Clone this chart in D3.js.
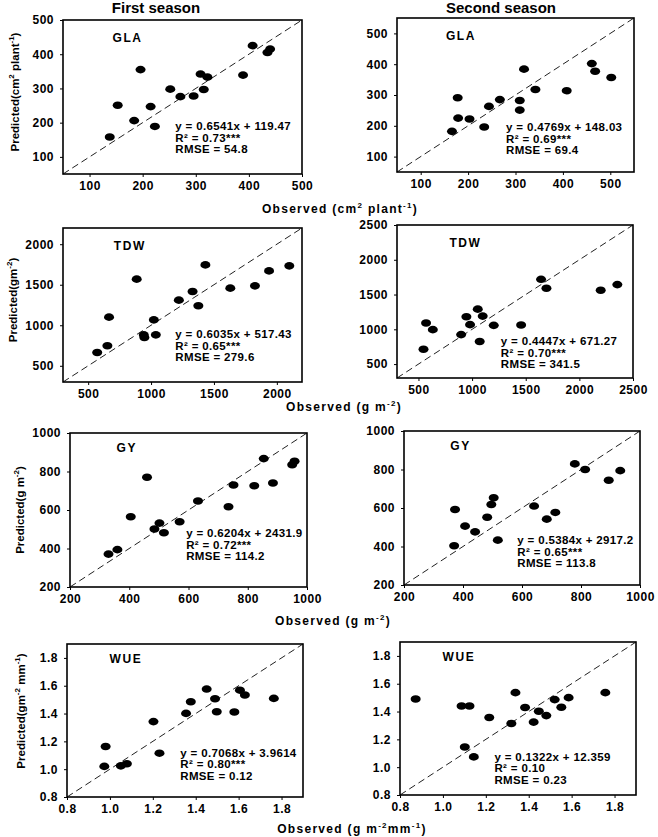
<!DOCTYPE html>
<html><head><meta charset="utf-8">
<script src="https://cdn.jsdelivr.net/npm/d3@7"></script>
<style>
html,body{margin:0;padding:0;background:#fff;}
svg{display:block;}
text{font-family:Arial,"Liberation Sans",sans-serif;font-weight:bold;fill:#000;}
</style></head>
<body>
<svg id="chart" width="658" height="837"></svg>
<script>
// ---------- data ----------
const seasons = ["First season", "Second season"];

const glaFirstObs  = [138,153,184,196,215,223,252,271,296,309,315,322,389,407,435,440];
const glaFirstPred = [158,251,206,355,247,189,298,276,278,342,297,333,339,425,405,415];
const glaSecondObs  = [166,178,179,203,234,244,267,309,309,318,342,408,461,468,502];
const glaSecondPred = [182,291,225,222,196,263,285,282,251,384,318,314,402,377,357];

const tdwFirstObs  = [572,653,666,886,942,947,1022,1038,1221,1330,1376,1432,1630,1826,1938,2099];
const tdwFirstPred = [664,747,1100,1569,882,849,1067,882,1310,1417,1240,1745,1458,1486,1671,1733];
const tdwSecondObs  = [547,571,634,898,947,981,1053,1071,1099,1202,1457,1643,1693,2199,2354];
const tdwSecondPred = [714,1090,995,924,1181,1067,1290,824,1190,1057,1062,1719,1590,1562,1643];

const gyFirstObs  = [330,360,405,460,485,502,517,570,632,735,752,822,854,885,950,958];
const gyFirstPred = [371,394,565,770,501,532,482,539,647,617,730,726,867,740,835,853];
const gySecondObs  = [370,373,407,441,482,496,504,518,641,684,713,779,814,894,933];
const gySecondPred = [404,592,506,476,552,618,653,433,610,542,577,829,800,744,794];

const wueFirstObs  = [0.974,0.98,1.051,1.079,1.203,1.231,1.355,1.377,1.451,1.490,1.498,1.580,1.606,1.629,1.764];
const wueFirstPred = [1.020,1.163,1.024,1.039,1.342,1.115,1.401,1.485,1.576,1.506,1.413,1.411,1.568,1.533,1.509];
const wueSecondObs  = [0.873,1.087,1.124,1.102,1.144,1.216,1.338,1.319,1.383,1.423,1.447,1.482,1.521,1.552,1.586,1.757];
const wueSecondPred = [1.490,1.440,1.440,1.145,1.074,1.357,1.536,1.314,1.429,1.324,1.402,1.371,1.486,1.431,1.500,1.536];

const glaTicks = [100,200,300,400,500];
const tdwFirstTicks = [500,1000,1500,2000];
const tdwSecondTicks = [500,1000,1500,2000,2500];
const gyTicks = [200,400,600,800,1000];
const wueTicks = [0.8,1.0,1.2,1.4,1.6,1.8];

const variables = ["GLA","GLA","TDW","TDW","GY","GY","WUE","WUE"];
const equations = ["y = 0.6541x + 119.47","y = 0.4769x + 148.03","y = 0.6035x + 517.43","y = 0.4447x + 671.27",
                   "y = 0.6204x + 2431.9","y = 0.5384x + 2917.2","y = 0.7068x + 3.9614","y = 0.1322x + 12.359"];
const r2Values = ["0.73***","0.69***","0.65***","0.70***","0.72***","0.65***","0.80***","0.10"];
const rmseValues = ["54.8","69.4","279.6","341.5","114.2","113.8","0.12","0.23"];

// ---------- layout ----------
const svg = d3.select("#chart");

const panels = [
  {obs:glaFirstObs, pred:glaFirstPred, dom:[50,500], ticks:glaTicks, fmt:d3.format("d"), x:63, y:20, w:239, h:154, nf:[0.27,0.12], sf:[0.47,0.69]},
  {obs:glaSecondObs, pred:glaSecondPred, dom:[50,550], ticks:glaTicks, fmt:d3.format("d"), x:397, y:18, w:237, h:154, nf:[0.27,0.12], sf:[0.46,0.71]},
  {obs:tdwFirstObs, pred:tdwFirstPred, dom:[300,2200], ticks:tdwFirstTicks, fmt:d3.format("d"), x:63, y:228, w:239, h:154, nf:[0.28,0.12], sf:[0.47,0.69]},
  {obs:tdwSecondObs, pred:tdwSecondPred, dom:[300,2500], ticks:tdwSecondTicks, fmt:d3.format("d"), x:397, y:225, w:236, h:153, nf:[0.29,0.12], sf:[0.44,0.76]},
  {obs:gyFirstObs, pred:gyFirstPred, dom:[200,1000], ticks:gyTicks, fmt:d3.format("d"), x:70, y:433, w:237, h:154, nf:[0.24,0.10], sf:[0.49,0.65]},
  {obs:gySecondObs, pred:gySecondPred, dom:[200,1000], ticks:gyTicks, fmt:d3.format("d"), x:404, y:431, w:236, h:154, nf:[0.24,0.10], sf:[0.48,0.71]},
  {obs:wueFirstObs, pred:wueFirstPred, dom:[0.8,1.9], ticks:wueTicks, fmt:d3.format(".1f"), x:67, y:644, w:236, h:153, nf:[0.25,0.10], sf:[0.48,0.71]},
  {obs:wueSecondObs, pred:wueSecondPred, dom:[0.8,1.9], ticks:wueTicks, fmt:d3.format(".1f"), x:400, y:642, w:236, h:153, nf:[0.25,0.10], sf:[0.40,0.75]}
];

panels.forEach((p, i) => {
  const g = svg.append("g").attr("transform", `translate(${p.x},${p.y})`);
  const xs = d3.scaleLinear().domain(p.dom).range([0, p.w]);
  const ys = d3.scaleLinear().domain(p.dom).range([p.h, 0]);

  const xa = g.append("g").attr("transform", `translate(0,${p.h})`)
    .call(d3.axisBottom(xs).tickValues(p.ticks).tickFormat(p.fmt).tickSizeInner(3).tickSizeOuter(0).tickPadding(4));
  const ya = g.append("g")
    .call(d3.axisLeft(ys).tickValues(p.ticks).tickFormat(p.fmt).tickSizeInner(3).tickSizeOuter(0).tickPadding(6));
  [xa, ya].forEach(a => {
    a.select(".domain").remove();
    a.selectAll("line").attr("stroke", "#000").attr("stroke-width", 1);
    a.selectAll("text").attr("font-size", 12).attr("font-family", "Arial, 'Liberation Sans', sans-serif")
      .attr("font-weight", "bold").attr("letter-spacing", 0.5).attr("fill", "#111");
  });

  // 1:1 line
  g.append("line")
    .attr("x1", xs(p.dom[0])).attr("y1", ys(p.dom[0]))
    .attr("x2", xs(p.dom[1])).attr("y2", ys(p.dom[1]))
    .attr("stroke", "#222").attr("stroke-width", 1).attr("stroke-dasharray", "7,4");

  // frame
  g.append("rect").attr("x", 0).attr("y", 0).attr("width", p.w).attr("height", p.h)
    .attr("fill", "none").attr("stroke", "#000").attr("stroke-width", 1.6);

  // points
  g.selectAll("ellipse.pt").data(d3.range(p.obs.length)).join("ellipse")
    .attr("class", "pt")
    .attr("cx", k => xs(p.obs[k])).attr("cy", k => ys(p.pred[k]))
    .attr("rx", 5).attr("ry", 3.8).attr("fill", "#000");

  // variable label
  g.append("text").attr("x", p.w * p.nf[0]).attr("y", p.h * p.nf[1])
    .attr("text-anchor", "middle").attr("dominant-baseline", "central")
    .attr("font-size", 12).attr("letter-spacing", 1.6).attr("fill", "#222").text(variables[i]);

  // stats
  const sx = p.w * p.sf[0], sy = p.h * p.sf[1];
  const st = g.append("g").attr("font-size", 11.5).attr("letter-spacing", 0.35).attr("fill", "#222");
  st.append("text").attr("x", sx).attr("y", sy + 4).text(equations[i]);
  st.append("text").attr("x", sx).attr("y", sy + 15.5).text("R\u00B2 = " + r2Values[i]);
  st.append("text").attr("x", sx).attr("y", sy + 27).text("RMSE = " + rmseValues[i]);
});

// season titles
svg.append("text").attr("x", 156).attr("y", 13).attr("text-anchor", "middle").attr("font-size", 15).text(seasons[0]);
svg.append("text").attr("x", 501).attr("y", 13).attr("text-anchor", "middle").attr("font-size", 15).text(seasons[1]);

// helper for labels with superscripts: parts = [[text, isSup], ...]
function richText(sel, parts, supSize) {
  let prevSup = false;
  parts.forEach(([t, sup]) => {
    const ts = sel.append("tspan").text(t);
    if (sup && !prevSup) ts.attr("dy", -5).attr("font-size", supSize);
    else if (sup) ts.attr("font-size", supSize);
    else if (!sup && prevSup) ts.attr("dy", 5);
    prevSup = sup;
  });
}

// x-axis titles
const xTitles = [
  {x:340, y:213, parts:[["Observed (cm",0],["2",1],[" plant",0],["-1",1],[")",0]]},
  {x:344, y:411, parts:[["Observed (g m",0],["-2",1],[")",0]]},
  {x:333, y:625, parts:[["Observed (g m",0],["-2",1],[")",0]]},
  {x:352, y:833, parts:[["Observed (g m",0],["-2",1],["mm",0],["-1",1],[")",0]]}
];
xTitles.forEach(t => {
  const tx = svg.append("text").attr("x", t.x).attr("y", t.y).attr("text-anchor", "middle")
    .attr("font-size", 12).attr("letter-spacing", 1.3).attr("fill", "#111");
  richText(tx, t.parts, 8);
});

// y-axis titles
const yTitles = [
  {x:15, y:92, parts:[["Predicted(cm",0],["2",1],[" plant",0],["-1",1],[")",0]]},
  {x:13, y:300, parts:[["Predicted(gm",0],["-2",1],[")",0]]},
  {x:20, y:510, parts:[["Predicted(g m",0],["-2",1],[")",0]]},
  {x:21, y:711, parts:[["Predicted(gm",0],["-2",1],[" mm",0],["-1",1],[")",0]]}
];
yTitles.forEach(t => {
  const tx = svg.append("text").attr("transform", `translate(${t.x + 4},${t.y}) rotate(-90)`)
    .attr("text-anchor", "middle").attr("font-size", 11.5).attr("fill", "#111");
  richText(tx, t.parts, 8);
});
</script>
</body></html>
